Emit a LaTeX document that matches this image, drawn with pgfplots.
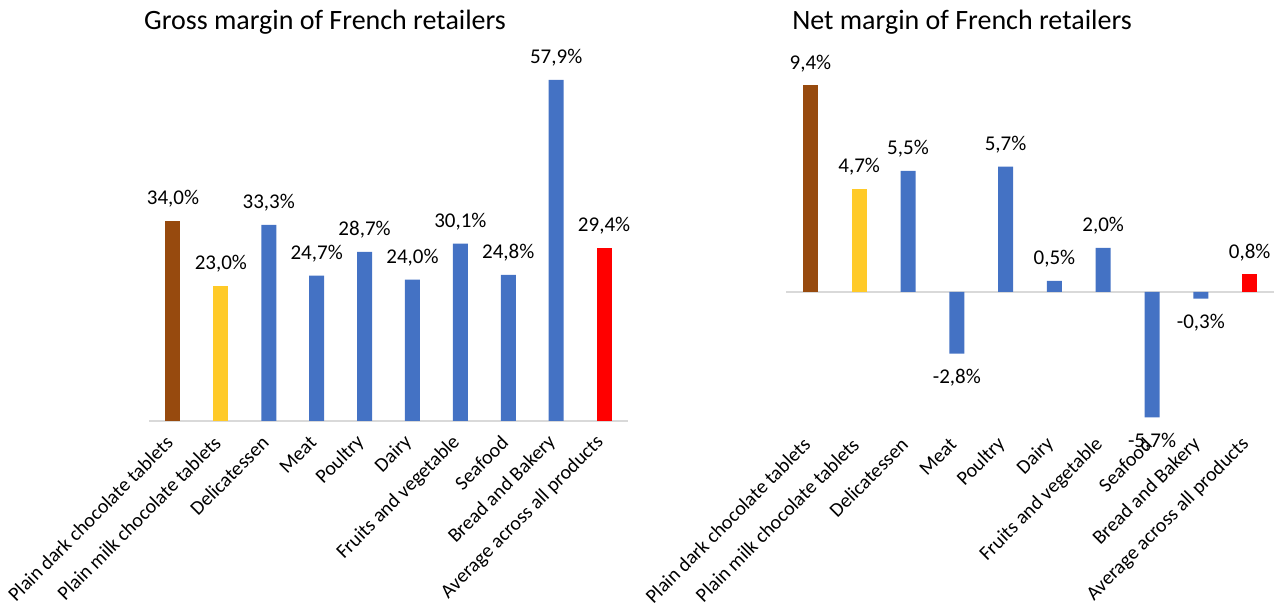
\documentclass[border=0pt]{standalone}
\usepackage{pgfplots}
\pgfplotsset{compat=1.18}
\usepackage{fontspec}
\setmainfont{Carlito}
\definecolor{cbrown}{HTML}{974A0E}
\definecolor{cyellow}{HTML}{FFCA28}
\definecolor{cblue}{HTML}{4472C4}
\definecolor{cred}{HTML}{FF0000}
\definecolor{cgrid}{HTML}{D9D9D9}
\pgfplotsset{mybars/.style={
  scale only axis, ybar, bar width=7.5pt, bar shift=0pt,
  xmin=-0.5, xmax=9.5, xtick={0,...,9},
  xticklabels={Plain dark chocolate tablets,Plain milk chocolate tablets,Delicatessen,Meat,Poultry,Dairy,Fruits and vegetable,Seafood,Bread and Bakery,Average across all products},
  xticklabel style={rotate=45, anchor=east, font=\fontsize{10}{12}\selectfont, xshift=1pt},
  axis line style={draw=none}, ytick=\empty, major tick length=0pt,
  extra y ticks={0}, extra y tick labels={},
  extra y tick style={grid=major, major grid style={cgrid, line width=1pt}},
  nodes near coords={\pgfplotspointmeta\%}, point meta=explicit symbolic,
  every node near coord/.append style={font=\fontsize{10.5}{12}\selectfont, text=black, inner sep=6.5pt, anchor=south},
  clip=false,
  table/row sep=\\,
}}
\begin{document}
\begin{tikzpicture}
\path[use as bounding box] (0,0) rectangle (639pt,305pt);
\node[font=\fontsize{14}{16}\selectfont] at (162.5pt,294pt) {Gross margin of French retailers};
\node[font=\fontsize{14}{16}\selectfont] at (481pt,294pt) {Net margin of French retailers};
\begin{axis}[mybars, at={(74.5pt,94.5pt)}, anchor=south west, width=239.5pt, height=176.7pt,
  ymin=0, ymax=60, xticklabel shift=7.5pt]
\addplot[fill=cbrown, draw=none] table[x=x,y=y,meta=l] {x y l\\ 0 34.0 34,0\\};
\addplot[fill=cyellow, draw=none] table[x=x,y=y,meta=l] {x y l\\ 1 23.0 23,0\\};
\addplot[fill=cblue, draw=none] table[x=x,y=y,meta=l] {x y l\\ 2 33.3 33,3\\ 3 24.7 24,7\\ 4 28.7 28,7\\ 5 24.0 24,0\\ 6 30.1 30,1\\ 7 24.8 24,8\\ 8 57.9 57,9\\};
\addplot[fill=cred, draw=none] table[x=x,y=y,meta=l] {x y l\\ 9 29.4 29,4\\};
\end{axis}
\begin{axis}[mybars, at={(393pt,93pt)}, anchor=south west, width=244pt, height=176pt,
  ymin=-6, ymax=10, xticklabel shift=7pt]
\addplot[fill=cbrown, draw=none] table[x=x,y=y,meta=l] {x y l\\ 0 9.4 9,4\\};
\addplot[fill=cyellow, draw=none] table[x=x,y=y,meta=l] {x y l\\ 1 4.7 4,7\\};
\addplot[fill=cblue, draw=none] table[x=x,y=y,meta=l] {x y l\\ 2 5.5 5,5\\ 4 5.7 5,7\\ 5 0.5 0,5\\ 6 2.0 2,0\\};
\addplot[fill=cblue, draw=none, every node near coord/.append style={anchor=north, inner sep=7.5pt}] table[x=x,y=y,meta=l] {x y l\\ 3 -2.8 -2,8\\ 7 -5.7 -5,7\\ 8 -0.3 -0,3\\};
\addplot[fill=cred, draw=none] table[x=x,y=y,meta=l] {x y l\\ 9 0.8 0,8\\};
\end{axis}
\end{tikzpicture}
\end{document}
